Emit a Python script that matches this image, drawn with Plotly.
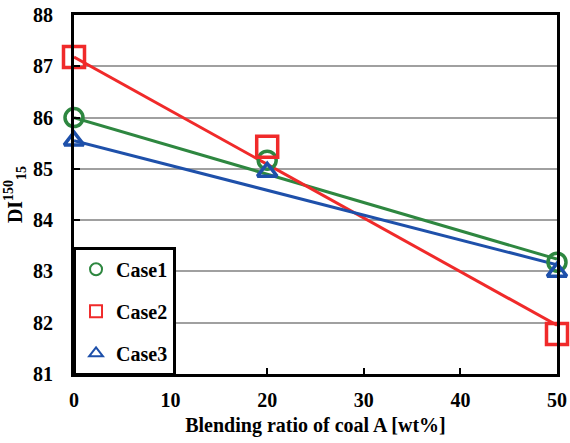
import plotly.graph_objects as go

# Data
ratio = [0, 20, 50]
case1 = [86.0, 85.17, 83.18]
case2 = [87.18, 85.43, 81.78]
case3 = [85.55, 84.94, 82.99]

# straight trend lines (end values)
line_x = [0, 50]
line1 = [86.0, 83.24]
line2 = [87.18, 81.95]
line3 = [85.55, 83.13]

green = "rgb(46,135,64)"
red = "rgb(240,42,42)"
blue = "rgb(30,80,170)"

fig = go.Figure()
for ly, col in [(line1, green), (line2, red), (line3, blue)]:
    fig.add_trace(go.Scatter(x=line_x, y=ly, mode="lines", line=dict(color=col, width=3),
                             showlegend=False, hoverinfo="skip", cliponaxis=False))

specs = [("Case1", case1, green, "circle-open", 18),
         ("Case2", case2, red, "square-open", 21),
         ("Case3", case3, blue, "triangle-up-open", 17)]
for name, ys, col, sym, sz in specs:
    fig.add_trace(go.Scatter(x=ratio, y=ys, mode="markers", name=name, legendgroup=name,
                             marker=dict(symbol=sym, size=sz, color=col,
                                         line=dict(color=col, width=3.5)),
                             cliponaxis=False))

fam = "Liberation Serif, Times New Roman, serif"
font = dict(family=fam, size=20, color="black", weight="bold")

fig.update_layout(
    width=570, height=443,
    margin=dict(l=74, r=13, t=15, b=69),
    paper_bgcolor="white", plot_bgcolor="white",
    font=font,
    showlegend=True,
    legend=dict(x=-0.002, y=-0.005, xanchor="left", yanchor="bottom",
                bordercolor="black", borderwidth=3, bgcolor="white",
                font=dict(family=fam, size=20, color="black", weight="bold"),
                tracegroupgap=13, traceorder="grouped", itemsizing="constant",
                itemwidth=30),
    xaxis=dict(range=[0, 50], tickvals=[0, 10, 20, 30, 40, 50],
               ticks="inside", ticklen=6, tickwidth=2, tickcolor="black",
               showline=True, linecolor="black", linewidth=3, mirror=True,
               showgrid=False, zeroline=False, ticklabelstandoff=6, automargin=False,
               tickfont=dict(family=fam, size=20, weight="bold"),
               title=dict(text="Blending ratio of coal A [wt%]", standoff=8,
                          font=dict(family=fam, size=20, weight="bold"))),
    yaxis=dict(range=[81, 88], tickvals=[81, 82, 83, 84, 85, 86, 87, 88],
               ticks="inside", ticklen=6, tickwidth=2, tickcolor="black",
               showline=True, linecolor="black", linewidth=3, mirror=True,
               showgrid=True, gridcolor="rgb(160,160,160)", gridwidth=1.5,
               zeroline=False, ticklabelstandoff=14, automargin=False,
               tickfont=dict(family=fam, size=20, weight="bold"),
               title=dict(text="DI<sup>150</sup><sub>15</sub>", standoff=6,
                          font=dict(family=fam, size=20, weight="bold"))),
)

fig.write_html("out.html")
